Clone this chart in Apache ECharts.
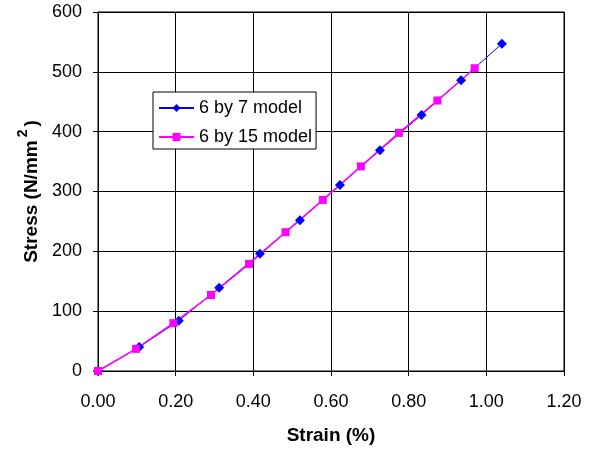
<!DOCTYPE html>
<html><head><meta charset="utf-8">
<script src="https://cdn.jsdelivr.net/npm/echarts@6/dist/echarts.min.js"></script>
<style>html,body{margin:0;padding:0;background:#fff}#c{width:591px;height:450px}</style>
</head><body><div id="c"></div>
<script>
const series7Name = '6 by 7 model';
const series15Name = '6 by 15 model';
const strain7 = [0, 0.106, 0.208, 0.312, 0.417, 0.520, 0.623, 0.726, 0.833, 0.935, 1.040];
const stress7 = [0, 40, 84, 139, 196, 252, 311, 369, 428, 486, 547];
const strain15 = [0, 0.098, 0.194, 0.291, 0.389, 0.483, 0.579, 0.677, 0.775, 0.874, 0.970];
const stress15 = [0, 37, 80, 127, 179, 232, 286, 342, 398, 452, 506];
const xTitle = 'Strain (%)';
const yTitle = '{a|Stress (N/mm}{s|2}{a|)}';

const font = 'Liberation Sans, Arial, sans-serif';
const chart = echarts.init(document.getElementById('c'), null, {renderer: 'canvas'});
chart.setOption({
  animation: false,
  backgroundColor: '#fff',
  grid: {left: 98, right: 27, top: 12, bottom: 78, show: true, borderColor: '#000', borderWidth: 1},
  legend: {
    left: 153, top: 92, orient: 'vertical', itemGap: 11,
    backgroundColor: '#fff', borderColor: '#000', borderWidth: 1, borderRadius: 0,
    padding: [7, 4, 3, 5], itemWidth: 35, itemHeight: 10,
    textStyle: {fontFamily: font, fontSize: 18, color: '#000'},
    data: [series7Name, series15Name]
  },
  xAxis: {
    type: 'value', min: 0, max: 1.2, interval: 0.2,
    name: xTitle, nameLocation: 'middle', nameGap: 55,
    nameTextStyle: {fontFamily: font, fontSize: 19, fontWeight: 'bold', color: '#000'},
    axisLine: {show: true, onZero: false, lineStyle: {color: '#000', width: 1}},
    axisTick: {show: true, length: 5, lineStyle: {color: '#000'}},
    axisLabel: {margin: 22, fontFamily: font, fontSize: 18, color: '#000', formatter: v => v.toFixed(2)},
    splitLine: {show: true, lineStyle: {color: '#000', width: 1}}
  },
  yAxis: {
    type: 'value', min: 0, max: 600, interval: 100,
    name: yTitle, nameLocation: 'middle', nameGap: 50,
    nameTextStyle: {
      fontFamily: font, fontSize: 19, fontWeight: 'bold', color: '#000',
      rich: {
        a: {fontFamily: font, fontSize: 19, fontWeight: 'bold', color: '#000', lineHeight: 25, verticalAlign: 'bottom'},
        s: {fontFamily: font, fontSize: 14, fontWeight: 'bold', color: '#000', lineHeight: 14, verticalAlign: 'top', padding: [0, 3, 0, 3]}
      }
    },
    axisLine: {show: true, onZero: false, lineStyle: {color: '#000', width: 1}},
    axisTick: {show: true, length: 5, lineStyle: {color: '#000'}},
    axisLabel: {margin: 16, fontFamily: font, fontSize: 18, color: '#000'},
    splitLine: {show: true, lineStyle: {color: '#000', width: 1}}
  },
  series: [
    {
      name: series7Name, type: 'line', data: strain7.map((x, i) => [x, stress7[i]]),
      symbol: 'diamond', symbolSize: 10, color: '#0000FF',
      lineStyle: {color: '#0000FF', width: 1}, itemStyle: {color: '#0000FF'}
    },
    {
      name: series15Name, type: 'line', data: strain15.map((x, i) => [x, stress15[i]]),
      symbol: 'rect', symbolSize: 8, color: '#FF00FF',
      lineStyle: {color: '#FF00FF', width: 1.5}, itemStyle: {color: '#FF00FF'}
    }
  ]
});
</script></body></html>
